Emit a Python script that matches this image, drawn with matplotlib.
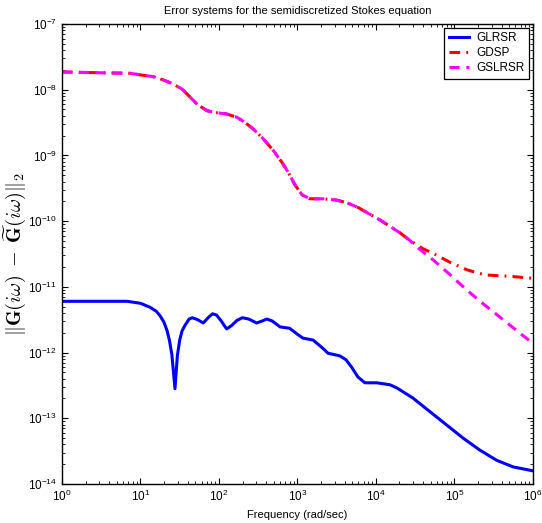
import numpy as np
import matplotlib
matplotlib.use('Agg')
import matplotlib.pyplot as plt
from matplotlib.ticker import LogLocator, NullFormatter

plt.rcParams['font.family'] = ['Liberation Sans', 'DejaVu Sans']
plt.rcParams['mathtext.fontset'] = 'cm'

# ── data (log10 frequency, log10 error) ──────────────────────────────────────
glrsr_logf = [0.0, 0.50, 0.83, 1.00, 1.12, 1.20, 1.25, 1.30, 1.34, 1.37, 1.40,
              1.44, 1.47, 1.50, 1.53, 1.57, 1.62, 1.66, 1.73, 1.80, 1.87, 1.92,
              1.97, 2.03, 2.08, 2.10, 2.16, 2.23, 2.30, 2.38, 2.48, 2.55, 2.61,
              2.68, 2.78, 2.90, 3.01, 3.07, 3.20, 3.32, 3.39, 3.54, 3.62, 3.69,
              3.77, 3.86, 4.01, 4.18, 4.27, 4.47, 4.69, 4.90, 5.11, 5.32, 5.54,
              5.75, 5.96, 6.0]
glrsr_logv = [-11.22, -11.22, -11.22, -11.25, -11.31, -11.37, -11.44, -11.54,
              -11.67, -11.82, -12.03, -12.55, -12.05, -11.81, -11.67, -11.58,
              -11.49, -11.47, -11.50, -11.55, -11.46, -11.41, -11.43, -11.52,
              -11.61, -11.64, -11.59, -11.51, -11.47, -11.49, -11.55, -11.52,
              -11.49, -11.52, -11.61, -11.63, -11.73, -11.78, -11.81, -11.93,
              -12.01, -12.05, -12.11, -12.22, -12.37, -12.46, -12.46, -12.49,
              -12.54, -12.69, -12.90, -13.10, -13.30, -13.48, -13.64, -13.74,
              -13.79, -13.80]

common_logf = [0.0, 0.61, 0.87, 1.03, 1.16, 1.29, 1.41, 1.53, 1.63, 1.73, 1.85,
               1.97, 2.10, 2.23, 2.31, 2.43, 2.56, 2.69, 2.80, 2.88, 2.97, 3.06,
               3.16, 3.32, 3.50, 3.63, 3.77, 4.05, 4.31, 4.43]
common_logv = [-7.73, -7.745, -7.75, -7.78, -7.80, -7.85, -7.91, -7.99, -8.11,
               -8.23, -8.32, -8.35, -8.37, -8.42, -8.48, -8.59, -8.74, -8.92,
               -9.10, -9.25, -9.45, -9.60, -9.66, -9.66, -9.68, -9.72, -9.79,
               -9.98, -10.18, -10.29]

gdsp_logf = common_logf + [4.60, 4.73, 4.95, 5.16, 5.30, 5.41, 5.71, 6.0]
gdsp_logv = common_logv + [-10.42, -10.49, -10.63, -10.74, -10.79, -10.82,
                           -10.84, -10.87]

gslrsr_logf = common_logf + [4.55, 4.73, 4.95, 5.16, 5.37, 5.58, 5.79, 6.0]
gslrsr_logv = common_logv + [-10.42, -10.59, -10.82, -11.05, -11.26, -11.46,
                             -11.66, -11.86]


def tolin(a):
    return 10.0 ** np.asarray(a)


fig = plt.figure(figsize=(5.42, 5.23), dpi=100)
ax = fig.add_axes([0.1144, 0.0746, 0.8686, 0.8795])

ax.loglog(tolin(glrsr_logf), tolin(glrsr_logv), color='#0000ff', lw=2.2,
          ls='-', label='GLRSR')
ax.loglog(tolin(gdsp_logf), tolin(gdsp_logv), color='#ff0000', lw=2.2,
          ls=(0, (3.5, 2.0, 0.6, 2.0)), label='GDSP')
ax.loglog(tolin(gslrsr_logf), tolin(gslrsr_logv), color='#ff00ff', lw=2.2,
          ls=(0, (3.3, 2.2)), label='GSLRSR')

ax.set_xlim(1, 1e6)
ax.set_ylim(1e-14, 1e-7)
ax.xaxis.set_major_locator(LogLocator(base=10, numticks=10))
ax.yaxis.set_major_locator(LogLocator(base=10, numticks=10))
ax.xaxis.set_minor_locator(LogLocator(base=10, subs=np.arange(2, 10), numticks=20))
ax.yaxis.set_minor_locator(LogLocator(base=10, subs=np.arange(2, 10), numticks=20))
ax.xaxis.set_minor_formatter(NullFormatter())
ax.yaxis.set_minor_formatter(NullFormatter())
ax.tick_params(which='both', direction='in', top=True, right=True,
               labelsize=8.5)
ax.tick_params(which='major', length=4.5, width=0.8)
ax.tick_params(which='minor', length=2.2, width=0.6)
for sp in ax.spines.values():
    sp.set_linewidth(1.0)

ax.set_title('Error systems for the semidiscretized Stokes equation',
             fontsize=8, pad=7)
ax.set_xlabel('Frequency (rad/sec)', fontsize=8)
ax.set_ylabel(r'$\|\mathbf{G}(i\omega)\;-\;\widetilde{\mathbf{G}}(i\omega)\|_2$',
              fontsize=14.5, labelpad=0)

leg = ax.legend(loc='upper right', fontsize=8.5, fancybox=False,
                framealpha=1, edgecolor='black', borderaxespad=0.3,
                handlelength=1.7, handletextpad=0.6, borderpad=0.4,
                labelspacing=0.25)
leg.get_frame().set_linewidth(0.9)

fig.savefig('out.png', dpi=100, facecolor='white')
